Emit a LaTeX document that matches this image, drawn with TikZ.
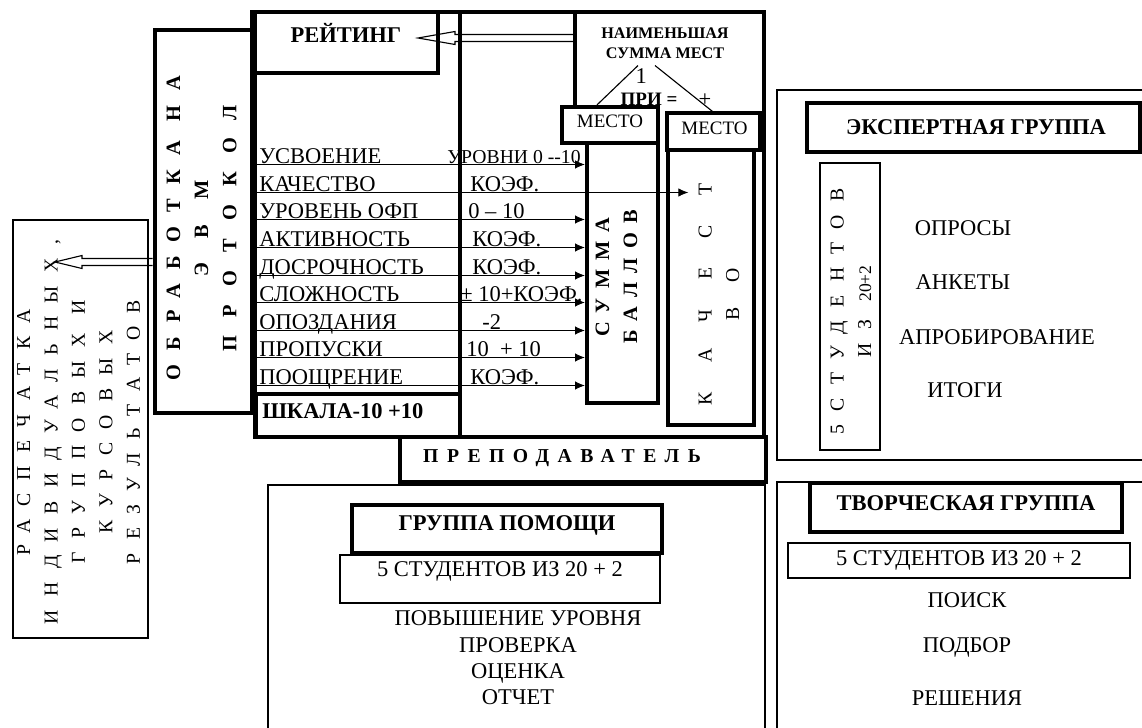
\documentclass[tikz,border=0pt]{standalone}
\usepackage{fontspec}
\setmainfont{Liberation Serif}
\usepackage{tikz}
\usetikzlibrary{arrows.meta, positioning, calc, fit}
\tikzset{
  heavybox/.style={draw, line width=3.5pt, inner sep=0pt},
  midbox/.style={draw, line width=2.2pt, inner sep=0pt},
  framebox/.style={draw, line width=1.8pt, inner sep=0pt},
  thinbox/.style={draw, line width=0.8pt, inner sep=0pt},
  plain/.style={font=\fontsize{16}{19}\selectfont, inner sep=0pt},
  small/.style={font=\fontsize{13.5}{15}\selectfont, inner sep=0pt},
  tiny/.style={font=\fontsize{11.5}{14}\selectfont\bfseries, inner sep=0pt},
  hdr/.style={font=\fontsize{16}{19}\selectfont\bfseries, inner sep=0pt},
  sparse/.style={rotate=90, align=center, inner sep=0pt,
    font=\fontsize{14}{19.5}\selectfont\addfontfeature{LetterSpace=68}},
  sparsebold/.style={rotate=90, align=center, inner sep=0pt,
    font=\fontsize{14.5}{20}\selectfont\bfseries},
  wide/.style={inner sep=0pt,
    font=\fontsize{14}{17}\selectfont\bfseries\addfontfeature{LetterSpace=43}},
  heavyline/.style={line width=3pt},
  feed/.style={line width=0.6pt, -{Latex[length=7pt, width=6pt]}},
  hollow/.style={line width=0.8pt, line join=miter}
}
\newcommand{\ls}[2]{{\addfontfeature{LetterSpace=#1}#2}}
\newcommand{\hollowarrow}[3]{%
  \draw[hollow] ($(#1)+(0,-3.5)$) -- ($(#2)+(#3,-3.5)$) -- ($(#2)+(#3,-6.5)$)
    -- (#2) -- ($(#2)+(#3,6.5)$) -- ($(#2)+(#3,3.5)$) -- ($(#1)+(0,3.5)$);}

\begin{document}
\begin{tikzpicture}[x=0.025cm, y=-0.025cm]
  \useasboundingbox (0,0) rectangle (1142,728);
  \clip (0,0) rectangle (1142,728);

  \node[thinbox, fit={(13,220) (148,638)}] (print) {};
  \node[sparse] (printtxt) at ($(print.center)+(-2,3)$)
    {РАСПЕЧАТКА\\ИНДИВИДУАЛЬНЫХ,\\ГРУППОВЫХ И\\КУРСОВЫХ\\РЕЗУЛЬТАТОВ};

  \node[heavybox, fit={(155,30) (252,413)}] (proc) {};
  \node[sparsebold] (proctxt) at ($(proc.center)+(-2,7)$)
    {\ls{70}{ОБРАБОТКА НА}\\\ls{120}{ЭВМ}\\\ls{90}{ПРОТОКОЛ}};

  \node[heavybox, fit={(255,12) (764,437)}] (rate) {};
  \draw[line width=2.5pt] (460,12) -- (460,437);
  \node[heavybox, fit={(252,12) (438,73)}] (rating) {};
  \node[hdr] (ratingtxt) at (346,33) {РЕЙТИНГ};

  \draw[heavyline] (575,12) -- (575,107);
  \node[tiny, align=center] (least) at (665,43) {НАИМЕНЬШАЯ\\СУММА МЕСТ};
  \node[font=\fontsize{13.5}{16}\selectfont\bfseries, inner sep=0pt] (eq) at (649,99) {ПРИ =};

  \node[heavybox, line width=3pt, fit={(562,107) (658,143)}] (place1) {};
  \node[small] (place1txt) at ($(place1.center)+(0,-4)$) {МЕСТО};
  \node[midbox, fit={(667,113) (760,150)}] (place2) {};
  \node[small] (place2txt) at ($(place2.center)+(1,-3)$) {МЕСТО};
  \draw[line width=0.8pt] ($(least.south)+(-27,7)$) -- node[pos=0.28, right=6pt, plain] {1}
    ($(place1.north)+(-13,0)$);
  \draw[line width=0.8pt] ($(least.south)+(-10,7)$) -- node[pos=0.75, right=0pt, plain] {+}
    ($(place2.north)+(-1,0)$);

  \node[heavybox, line width=3pt, fit={(587,143) (658,403)}] (sum) {};
  \node[sparsebold] (sumtxt) at ($(sum.center)+(-6,4)$)
    {\ls{45}{СУММА}\\\ls{45}{БАЛЛОВ}};
  \node[midbox, line width=2.5pt, fit={(668,150) (754,425)}] (qual) {};
  \node[sparse] (qualtxt) at ($(qual.center)+(8,7)$)
    {\ls{150}{КАЧЕСТ}\\\ls{125}{ВО}};
  \coordinate (qin) at ($(qual.west)+(22,0)$);

  \foreach \lab/\val/\vx/\yy/\tgt [count=\i] in {
      УСВОЕНИЕ/{\fontsize{14}{16}\selectfont УРОВНИ 0 -{}-10}/447/157/sum.west,
      КАЧЕСТВО/КОЭФ./470/185/qin,
      УРОВЕНЬ ОФП/0 – 10/468/212/sum.west,
      АКТИВНОСТЬ/КОЭФ./472/240/sum.west,
      ДОСРОЧНОСТЬ/КОЭФ./472/268/sum.west,
      СЛОЖНОСТЬ/{± 10+КОЭФ.}/460/295/sum.west,
      ОПОЗДАНИЯ/-2/482/323/sum.west,
      ПРОПУСКИ/{10 \ + 10}/466/350/sum.west,
      ПООЩРЕНИЕ/КОЭФ./470/378/sum.west}{
    \node[plain, anchor=base west] (lab\i) at (259,{\yy+6.5}) {\lab};
    \node[plain, anchor=base west] (val\i) at (\vx,{\yy+6.5}) {\val};
    \coordinate (r\i) at (257,{\yy+7.5});
    \draw[feed] (r\i) -- (r\i -| \tgt);
  }

  \node[heavybox, fit={(256,394) (460,437)}] (scale) {};
  \node[hdr, anchor=west] (scaletxt) at (262,411) {ШКАЛА-10 +10};

  \node[heavybox, fit={(400,437) (766,482)}] (teacher) {};
  \node[wide] (teachertxt) at (562,458) {ПРЕПОДАВАТЕЛЬ};

  \node[framebox, line width=2pt, fit={(268,485) (765,745)}] (help) {};
  \node[heavybox, fit={(352,505) (662,553)}] (helphdr) {};
  \node[hdr] (helphdrtxt) at (507,525) {ГРУППА ПОМОЩИ};
  \node[thinbox, fit={(340,555) (660,603)}] (helpstud) {};
  \node[plain] (helpstudtxt) at (500,571) {5 СТУДЕНТОВ ИЗ 20 + 2};
  \node[plain, align=center, font=\fontsize{16}{18.7}\selectfont] (helplist) at (518,658)
    {ПОВЫШЕНИЕ УРОВНЯ\\ПРОВЕРКА\\ОЦЕНКА\\ОТЧЕТ};

  \node[framebox, fit={(777,90) (1170,460)}] (expert) {};
  \node[heavybox, line width=3pt, fit={(807,103) (1140,152)}] (experthdr) {};
  \node[hdr] (experthdrtxt) at (976,127) {ЭКСПЕРТНАЯ ГРУППА};
  \node[thinbox, fit={(820,163) (880,450)}] (expertstud) {};
  \node[sparse] (expertstudtxt) at ($(expertstud.center)+(1,5)$)
    {5СТУДЕНТОВ\\ИЗ \ls{0}{\fontsize{12.5}{15}\selectfont 20+2}};
  \node[plain] (poll) at (963,228) {ОПРОСЫ};
  \node[plain] (form) at (963,282) {АНКЕТЫ};
  \node[plain] (trial) at (997,337) {АПРОБИРОВАНИЕ};
  \node[plain] (total) at (965,390) {ИТОГИ};

  \node[framebox, line width=2pt, fit={(777,482) (1170,745)}] (creative) {};
  \node[heavybox, line width=3pt, fit={(810,483) (1122,532)}] (creativehdr) {};
  \node[hdr] (creativehdrtxt) at (966,503) {ТВОРЧЕСКАЯ ГРУППА};
  \node[thinbox, fit={(788,543) (1130,578)}] (creativestud) {};
  \node[plain] (creativestudtxt) at (959,560) {5 СТУДЕНТОВ ИЗ 20 + 2};
  \node[plain] (search) at (967,600) {ПОИСК};
  \node[plain] (pick) at (967,647) {ПОДБОР};
  \node[plain] (solve) at (967,698) {РЕШЕНИЯ};

  \coordinate (printtip) at (55,262);
  \coordinate (proctail) at (proc.west |- printtip);
  \hollowarrow{proctail}{printtip}{27}
  \coordinate (ratetip) at (418,38);
  \coordinate (leasttail) at (575,38);
  \hollowarrow{leasttail}{ratetip}{37}
\end{tikzpicture}
\end{document}
